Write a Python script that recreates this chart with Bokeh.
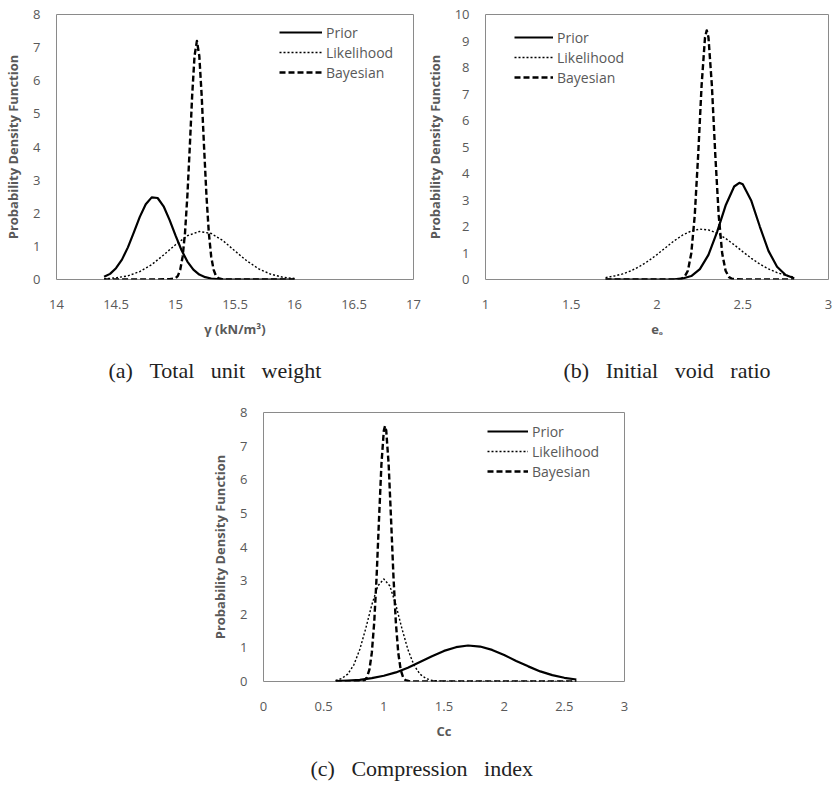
from bokeh.plotting import figure
from bokeh.layouts import column, row
from bokeh.models import (Range1d, FixedTicker, CustomJSTickFormatter, Title, Spacer, Legend)
from bokeh.embed import file_html
from bokeh.resources import INLINE

# ---------------- data ----------------
# (a) Total unit weight
a_prior_x = [14.40, 14.45, 14.50, 14.55, 14.60, 14.65, 14.70, 14.75, 14.80, 14.85, 14.90, 14.95,
             15.00, 15.05, 15.10, 15.15, 15.20, 15.25, 15.30, 15.40, 15.60, 15.80, 16.00]
a_prior_y = [0.08, 0.17, 0.34, 0.60, 0.97, 1.42, 1.89, 2.27, 2.48, 2.46, 2.21, 1.80,
             1.33, 0.89, 0.54, 0.30, 0.15, 0.07, 0.03, 0.00, 0.00, 0.00, 0.00]
a_like_x = [14.4, 14.5, 14.6, 14.7, 14.8, 14.9, 15.0, 15.1, 15.2, 15.3, 15.4, 15.5, 15.6,
            15.7, 15.8, 15.9, 16.0]
a_like_y = [0.02, 0.05, 0.11, 0.24, 0.45, 0.74, 1.05, 1.32, 1.45, 1.39, 1.17, 0.86, 0.56,
            0.32, 0.16, 0.07, 0.03]
a_bayes_x = [14.40, 14.80, 14.95, 15.00, 15.02, 15.04, 15.06, 15.08, 15.10, 15.12, 15.14, 15.16,
             15.18, 15.20, 15.22, 15.24, 15.26, 15.28, 15.30, 15.32, 15.34, 15.36, 15.40, 16.00]
a_bayes_y = [0.00, 0.00, 0.01, 0.04, 0.11, 0.30, 0.69, 1.41, 2.54, 4.00, 5.55, 6.75,
             7.20, 6.75, 5.55, 4.00, 2.54, 1.41, 0.69, 0.30, 0.11, 0.04, 0.00, 0.00]

# (b) Initial void ratio
b_prior_x = [1.70, 1.80, 1.90, 2.00, 2.10, 2.15, 2.20, 2.25, 2.30, 2.35, 2.40, 2.45, 2.48,
             2.50, 2.55, 2.60, 2.65, 2.70, 2.75, 2.80]
b_prior_y = [0.00, 0.00, 0.00, 0.00, 0.01, 0.04, 0.13, 0.39, 0.93, 1.79, 2.79, 3.51, 3.65,
             3.59, 2.97, 1.99, 1.08, 0.48, 0.17, 0.05]
b_like_x = [1.70, 1.75, 1.80, 1.85, 1.90, 1.95, 2.00, 2.05, 2.10, 2.15, 2.20, 2.25, 2.30,
            2.35, 2.40, 2.45, 2.50, 2.55, 2.60, 2.65, 2.70, 2.75, 2.80]
b_like_y = [0.07, 0.13, 0.21, 0.33, 0.50, 0.70, 0.94, 1.20, 1.46, 1.68, 1.83, 1.90, 1.87,
            1.75, 1.55, 1.31, 1.05, 0.80, 0.58, 0.40, 0.26, 0.16, 0.09]
b_bayes_x = [1.70, 2.10, 2.14, 2.16, 2.18, 2.20, 2.22, 2.24, 2.26, 2.28, 2.29, 2.30, 2.32,
             2.34, 2.36, 2.38, 2.40, 2.42, 2.44, 2.50, 2.80]
b_bayes_y = [0.00, 0.00, 0.02, 0.09, 0.33, 0.99, 2.41, 4.69, 7.32, 9.14, 9.40, 9.14, 7.32,
             4.69, 2.41, 0.99, 0.33, 0.09, 0.02, 0.00, 0.00]

# (c) Compression index
c_prior_x = [0.6, 0.7, 0.8, 0.9, 1.0, 1.1, 1.2, 1.3, 1.4, 1.5, 1.6, 1.7, 1.8, 1.9, 2.0,
             2.1, 2.2, 2.3, 2.4, 2.5, 2.6]
c_prior_y = [0.01, 0.03, 0.05, 0.10, 0.17, 0.27, 0.41, 0.58, 0.75, 0.91, 1.02, 1.07, 1.04,
             0.94, 0.79, 0.61, 0.45, 0.30, 0.19, 0.11, 0.06]
c_like_x = [0.60, 0.65, 0.70, 0.75, 0.80, 0.85, 0.90, 0.95, 1.00, 1.05, 1.10, 1.15, 1.20,
            1.25, 1.30, 1.35, 1.40, 1.50, 2.60]
c_like_y = [0.03, 0.09, 0.22, 0.49, 0.95, 1.58, 2.28, 2.84, 3.05, 2.84, 2.28, 1.58, 0.95,
            0.49, 0.22, 0.09, 0.03, 0.00, 0.00]
c_bayes_x = [0.60, 0.80, 0.84, 0.86, 0.88, 0.90, 0.92, 0.94, 0.96, 0.98, 1.00, 1.01, 1.02,
             1.04, 1.06, 1.08, 1.10, 1.12, 1.14, 1.16, 1.18, 1.22, 2.60]
c_bayes_y = [0.00, 0.00, 0.04, 0.13, 0.35, 0.85, 1.75, 3.12, 4.83, 6.46, 7.46, 7.60, 7.46,
             6.46, 4.83, 3.12, 1.75, 0.85, 0.35, 0.13, 0.04, 0.00, 0.00]

a_xticks = [14, 14.5, 15, 15.5, 16, 16.5, 17]
b_xticks = [1, 1.5, 2, 2.5, 3]
c_xticks = [0, 0.5, 1, 1.5, 2, 2.5, 3]
a_yticks = list(range(0, 9))
b_yticks = list(range(0, 11))
c_yticks = list(range(0, 9))

series_names = ["Prior", "Likelihood", "Bayesian"]
SP = "\u00a0\u00a0\u00a0"
captions = ["(a)" + SP + "Total" + SP + "unit" + SP + "weight",
            "(b)" + SP + "Initial" + SP + "void" + SP + "ratio",
            "(c)" + SP + "Compression" + SP + "index"]

UI_FONT = "Open Sans"
GRAY = "#595959"


def make_panel(xr, yr, xticks, yticks, xlabel, caption, cap_offset, cap_standoff, curves,
               width, height, borders, legend_xy, glyph_w):
    bl, br, bt, bb = borders
    p = figure(width=width, height=height, output_backend="svg", toolbar_location=None,
               x_range=Range1d(*xr), y_range=Range1d(*yr),
               min_border_left=bl, min_border_right=br, min_border_top=bt, min_border_bottom=bb)
    p.background_fill_color = "white"
    p.border_fill_color = "white"
    p.outline_line_color = "#8a8a8a"
    p.outline_line_width = 1
    p.xgrid.visible = False
    p.ygrid.visible = False
    fmt = CustomJSTickFormatter(code="return String(Math.round(tick*10)/10);")
    p.xaxis.ticker = FixedTicker(ticks=xticks)
    p.yaxis.ticker = FixedTicker(ticks=yticks)
    p.xaxis.formatter = fmt
    p.yaxis.formatter = fmt
    for ax in (p.xaxis, p.yaxis):
        ax.axis_line_color = None
        ax.major_tick_line_color = None
        ax.minor_tick_line_color = None
        ax.major_label_text_font = UI_FONT
        ax.major_label_text_font_size = "13px"
        ax.major_label_text_color = GRAY
        ax.axis_label_text_font = UI_FONT
        ax.axis_label_text_font_size = "13px"
        ax.axis_label_text_font_style = "bold"
        ax.axis_label_text_color = GRAY
    p.xaxis.major_label_standoff = 14
    p.xaxis.axis_label_standoff = 8
    p.yaxis.major_label_standoff = 10
    p.yaxis.axis_label_standoff = 8
    p.xaxis.axis_label = xlabel
    p.yaxis.axis_label = "Probability Density Function"

    styles = [dict(line_dash="solid", line_width=2.2),
              dict(line_dash="2 2", line_width=1.4),
              dict(line_dash="6 3", line_width=2.4)]
    items = []
    for name, (xs, ys), st in zip(series_names, curves, styles):
        r = p.line(xs, ys, line_color="black", line_join="round", **st)
        items.append((name, [r]))
    leg = Legend(items=items, location=legend_xy, padding=0, margin=0, spacing=0,
                 border_line_color=None, background_fill_alpha=0,
                 glyph_width=glyph_w, glyph_height=20, label_height=20,
                 label_standoff=4, label_text_font=UI_FONT, label_text_font_size="14px",
                 label_text_color=GRAY)
    p.add_layout(leg)

    p.add_layout(Title(text=caption, align="left", offset=cap_offset,
                       text_font="Liberation Serif", text_font_size="22px",
                       text_font_style="normal", text_color="#222222",
                       standoff=cap_standoff), "below")
    return p


pa = make_panel((14, 17), (0, 8), a_xticks, a_yticks, "γ (kN/m³)", captions[0], 52, 31,
                [(a_prior_x, a_prior_y), (a_like_x, a_like_y), (a_bayes_x, a_bayes_y)],
                422, 401, (56, 9, 14, 122), (223, 197), 43)
pb = make_panel((1, 3), (0, 10), b_xticks, b_yticks, "eₒ", captions[1], 78, 31,
                [(b_prior_x, b_prior_y), (b_like_x, b_like_y), (b_bayes_x, b_bayes_y)],
                412, 401, (57, 6, 14, 122), (29, 192), 39)
pc = make_panel((0, 3), (0, 8), c_xticks, c_yticks, "Cc", captions[2], 47, 22,
                [(c_prior_x, c_prior_y), (c_like_x, c_like_y), (c_bayes_x, c_bayes_y)],
                440, 390, (63, 16, 11, 110), (224, 200), 41)

layout = column(row(pa, pb), row(Spacer(width=200, height=10), pc))

open("out.html", "w").write(file_html(layout, INLINE))
